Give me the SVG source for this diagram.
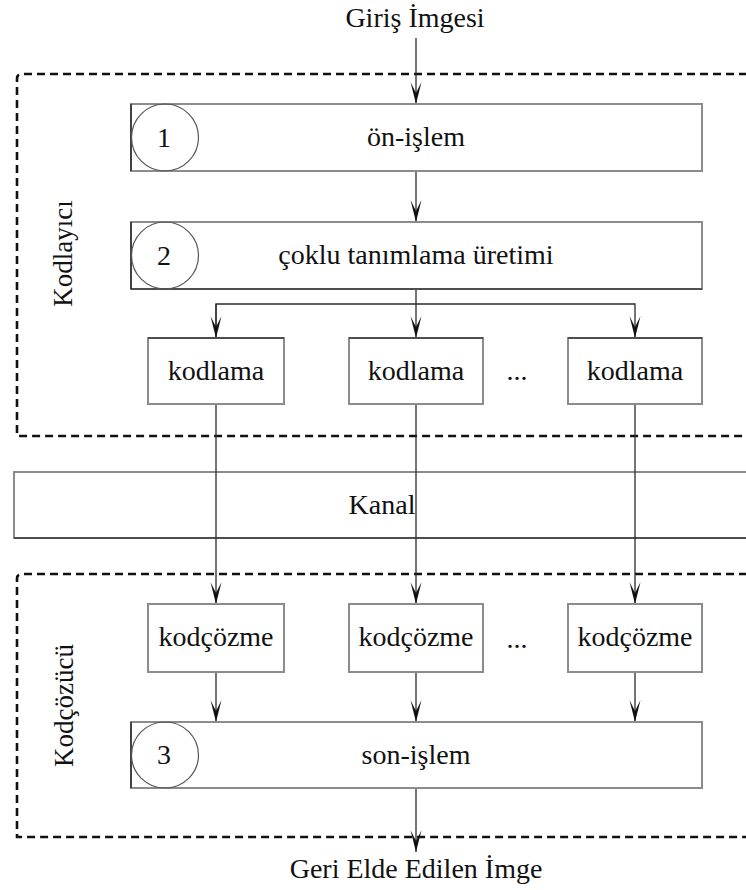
<svg xmlns="http://www.w3.org/2000/svg" width="746" height="890" viewBox="0 0 746 890">
  <style>
    .lbl { font-family: "Liberation Serif", "Times New Roman", serif; font-size: 28px; fill: #111; text-anchor: middle; }
    .side { font-family: "Liberation Serif", "Times New Roman", serif; font-size: 27px; fill: #111; text-anchor: middle; }
    .num { font-family: "Liberation Serif", "Times New Roman", serif; font-size: 28px; fill: #111; text-anchor: middle; }
    .box { fill: #fff; stroke: #8c8c8c; stroke-width: 2; }
    .edge { stroke: #111; stroke-width: 1.2; fill: none; }
    .ring { fill: none; stroke: #555; stroke-width: 1.2; }
    .group { fill: none; stroke: #111; stroke-width: 2.6; stroke-dasharray: 8 5; }
    .wire { stroke: #2a2a2a; stroke-width: 1.3; fill: none; }
  </style>
  <defs>
    <marker id="ah" viewBox="-23 -7 24 14" refX="0" refY="0" markerWidth="24" markerHeight="14" orient="auto" markerUnits="userSpaceOnUse">
      <path d="M0,0 L-22,-5.5 L-11,0 L-22,5.5 Z" fill="#111"/>
    </marker>
  </defs>
  <rect width="746" height="890" fill="#fff"/>

  <!-- dashed groupings: encoder and decoder -->
  <g id="encoder-frame">
    <path class="group" d="M760,74 H22 Q17,74 17,79 V436 H760"/>
    <text class="side" transform="translate(72,253.5) rotate(-90)">Kodlayıcı</text>
  </g>
  <g id="decoder-frame">
    <path class="group" d="M760,574 H22 Q17,574 17,579 V837 H760"/>
    <text class="side" transform="translate(73,705.5) rotate(-90)">Kodçözücü</text>
  </g>

  <!-- channel -->
  <g id="kanal">
    <rect class="box" x="14" y="472" width="760" height="66"/>
    <line class="edge" x1="14" y1="538" x2="746" y2="538"/>
    <text class="lbl" x="382" y="514">Kanal</text>
  </g>

  <!-- connectors -->
  <g id="connectors">
    <line class="wire" x1="416" y1="38" x2="416" y2="104" marker-end="url(#ah)"/>
    <line class="wire" x1="416" y1="171" x2="416" y2="222" marker-end="url(#ah)"/>
    <path class="wire" d="M416,289 V304"/>
    <path class="wire" d="M216,338 V304 H635 V338" marker-end="url(#ah)"/>
    <path class="wire" d="M216,304 V338" marker-end="url(#ah)"/>
    <path class="wire" d="M416,304 V338" marker-end="url(#ah)"/>
    <line class="wire" x1="216" y1="404" x2="216" y2="604" marker-end="url(#ah)"/>
    <line class="wire" x1="416" y1="404" x2="416" y2="604" marker-end="url(#ah)"/>
    <line class="wire" x1="635" y1="404" x2="635" y2="604" marker-end="url(#ah)"/>
    <line class="wire" x1="216" y1="672" x2="216" y2="722" marker-end="url(#ah)"/>
    <line class="wire" x1="416" y1="672" x2="416" y2="722" marker-end="url(#ah)"/>
    <line class="wire" x1="635" y1="672" x2="635" y2="722" marker-end="url(#ah)"/>
    <line class="wire" x1="416" y1="788" x2="416" y2="852" marker-end="url(#ah)"/>
  </g>

  <!-- terminals -->
  <g id="input">
    <text class="lbl" x="415" y="27">Giriş İmgesi</text>
  </g>
  <g id="output">
    <text class="lbl" x="416" y="878">Geri Elde Edilen İmge</text>
  </g>

  <!-- stage 1 -->
  <g id="on-islem">
    <rect class="box" x="131" y="104" width="571" height="67"/>
    <line class="edge" x1="131" y1="104" x2="131" y2="171"/>
    <ellipse class="ring" cx="165" cy="137.5" rx="33.5" ry="33.5"/>
    <text class="num" x="164" y="147">1</text>
    <text class="lbl" x="416" y="146">ön-işlem</text>
  </g>

  <!-- stage 2 -->
  <g id="coklu-tanimlama">
    <rect class="box" x="131" y="222" width="571" height="67"/>
    <line class="edge" x1="131" y1="222" x2="131" y2="289"/>
    <line class="edge" x1="131" y1="289" x2="702" y2="289"/>
    <ellipse class="ring" cx="165" cy="255.5" rx="33.5" ry="33.5"/>
    <text class="num" x="164" y="265">2</text>
    <text class="lbl" x="416" y="264">çoklu tanımlama üretimi</text>
  </g>

  <!-- encoders -->
  <g id="kodlama-1">
    <rect class="box" x="148" y="338" width="136" height="66"/>
    <line class="edge" x1="148" y1="338" x2="284" y2="338"/>
    <text class="lbl" x="216" y="380">kodlama</text>
  </g>
  <g id="kodlama-2">
    <rect class="box" x="349" y="338" width="134" height="66"/>
    <line class="edge" x1="349" y1="338" x2="483" y2="338"/>
    <text class="lbl" x="416" y="380">kodlama</text>
  </g>
  <g id="kodlama-dots">
    <text class="lbl" x="517" y="380">...</text>
  </g>
  <g id="kodlama-n">
    <rect class="box" x="568" y="338" width="134" height="66"/>
    <line class="edge" x1="568" y1="338" x2="702" y2="338"/>
    <text class="lbl" x="635" y="380">kodlama</text>
  </g>

  <!-- decoders -->
  <g id="kodcozme-1">
    <rect class="box" x="148" y="604" width="136" height="68"/>
    <text class="lbl" x="216" y="646">kodçözme</text>
  </g>
  <g id="kodcozme-2">
    <rect class="box" x="349" y="604" width="134" height="68"/>
    <text class="lbl" x="416" y="646">kodçözme</text>
  </g>
  <g id="kodcozme-dots">
    <text class="lbl" x="517" y="648">...</text>
  </g>
  <g id="kodcozme-n">
    <rect class="box" x="568" y="604" width="134" height="68"/>
    <text class="lbl" x="635" y="646">kodçözme</text>
  </g>

  <!-- stage 3 -->
  <g id="son-islem">
    <rect class="box" x="131" y="722" width="571" height="66"/>
    <line class="edge" x1="131" y1="722" x2="131" y2="788"/>
    <ellipse class="ring" cx="165" cy="755" rx="33.5" ry="33"/>
    <text class="num" x="164" y="764">3</text>
    <text class="lbl" x="416" y="764">son-işlem</text>
  </g>
</svg>
